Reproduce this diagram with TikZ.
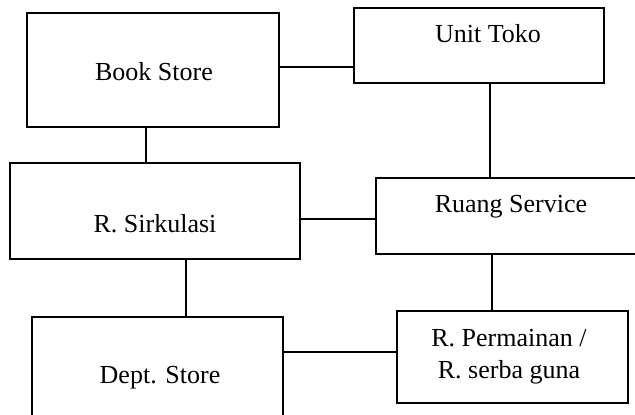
\documentclass[tikz,border=0pt]{standalone}
\usepackage{fontspec}
\setmainfont{Liberation Serif}
\begin{document}
\begin{tikzpicture}[x=1pt,y=-1pt,
  box/.style={draw, line width=1.5pt, inner sep=0pt},
  lbl/.style={font=\fontsize{26}{32}\selectfont, anchor=base, inner sep=0pt},
  link/.style={line width=1.5pt}]
\clip (0,0) rectangle (635,415);
\fill[white] (0,0) rectangle (635,415);
% boxes
\node[box, minimum width=252pt, minimum height=114pt] (bs) at (153,70) {};
\node[box, minimum width=250pt, minimum height=75pt] (ut) at (479,45.5) {};
\node[box, minimum width=290pt, minimum height=96pt] (sk) at (155,211) {};
\node[box, minimum width=269pt, minimum height=76pt] (rs) at (510.5,216) {};
\node[box, minimum width=251pt, minimum height=108pt] (ds) at (157.5,371) {};
\node[box, minimum width=231pt, minimum height=92pt] (rp) at (512.5,357) {};
% labels
\node[lbl] (bsl) at (154,80) {Book Store};
\node[lbl] (utl) at (488,42) {Unit Toko};
\node[lbl] (skl) at (155,232) {R. Sirkulasi};
\node[lbl] (rsl) at (511,212) {Ruang Service};
\node[lbl] (dsl) at (160,383) {Dept. Store};
\node[lbl] (rpl1) at (509,346) {R. Permainan /};
\node[lbl] (rpl2) at (509,378) {R. serba guna};
% connectors
\draw[link] (bs.east |- 0,67) -- (ut.west |- 0,67);
\draw[link] (bs.south -| 146,0) -- (sk.north -| 146,0);
\draw[link] (ut.south -| 490,0) -- (rs.north -| 490,0);
\draw[link] (sk.east |- 0,219) -- (rs.west |- 0,219);
\draw[link] (sk.south -| 186,0) -- (ds.north -| 186,0);
\draw[link] (rs.south -| 492,0) -- (rp.north -| 492,0);
\draw[link] (ds.east |- 0,352) -- (rp.west |- 0,352);
\end{tikzpicture}
\end{document}
